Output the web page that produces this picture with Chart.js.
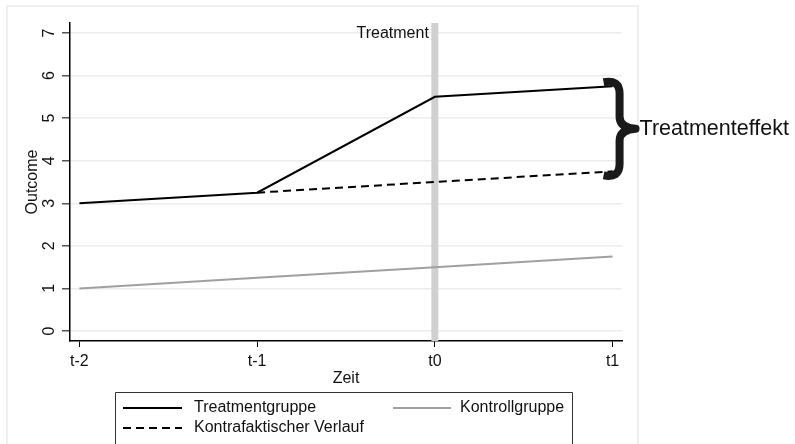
<!DOCTYPE html>
<html>
<head>
<meta charset="utf-8">
<script src="https://cdn.jsdelivr.net/npm/chart.js@4"></script>
<style>
  html, body { margin: 0; padding: 0; background: #fff; }
  #wrap { width: 795px; height: 444px; position: relative; }
</style>
</head>
<body>
<div id="wrap"><canvas id="chart"></canvas></div>
<script>
// data
const periods = ['t-2', 't-1', 't0', 't1'];
const treatmentGroup = [3, 3.25, 5.5, 5.75];
const counterfactual = [null, 3.25, 3.5, 3.75];
const controlGroup = [1, 1.25, 1.5, 1.75];
const yTicks = [0, 1, 2, 3, 4, 5, 6, 7];
const treatmentIndex = 2;

const FONT = "'Liberation Sans', Arial, sans-serif";

const toPoints = arr => arr.map((v, i) => ({ x: i, y: v }));

// annotations: frame, treatment line, brace, axis titles, legend
const decor = {
    id: 'decor',
    beforeDraw(chart) {
        const c = chart.ctx;
        c.save();
        c.strokeStyle = '#ececec';
        c.lineWidth = 1.5;
        c.beginPath();
        c.moveTo(7, 444); c.lineTo(7, 6); c.lineTo(638, 6); c.lineTo(638, 444);
        c.stroke();
        c.restore();
    },
    beforeDatasetsDraw(chart) {
        const c = chart.ctx, xs = chart.scales.x, a = chart.chartArea;
        const x = xs.getPixelForValue(treatmentIndex);
        c.save();
        c.fillStyle = '#d0d0d0';
        c.fillRect(x - 3.5, a.top, 7, a.bottom - a.top);
        c.restore();
    },
    afterDraw(chart) {
        const c = chart.ctx, xs = chart.scales.x, ys = chart.scales.y, a = chart.chartArea;
        c.save();
        c.fillStyle = '#111';
        c.font = '16px ' + FONT;
        c.textAlign = 'center';
        c.textBaseline = 'middle';

        // y tick labels, rotated
        yTicks.forEach(v => {
            c.save();
            c.translate(50, ys.getPixelForValue(v));
            c.rotate(-Math.PI / 2);
            c.fillText(String(v), 0, 0);
            c.restore();
        });

        // axis titles
        c.fillText('Zeit', (a.left + a.right) / 2, 379);
        c.save();
        c.translate(33, (a.top + a.bottom) / 2);
        c.rotate(-Math.PI / 2);
        c.fillText('Outcome', 0, 0);
        c.restore();

        // treatment label
        c.textAlign = 'right';
        c.fillText('Treatment', xs.getPixelForValue(treatmentIndex) - 6, ys.getPixelForValue(7) + 1);

        // brace from treatment end to counterfactual end
        const last = periods.length - 1;
        const bx = xs.getPixelForValue(last);
        const yTop = ys.getPixelForValue(treatmentGroup[last]) - 7;
        const yBot = ys.getPixelForValue(counterfactual[last]) + 7;
        const yMid = (yTop + yBot) / 2;
        const xl = bx - 9, xv = bx + 7, xt = bx + 23;
        c.strokeStyle = '#1a1a1a';
        c.lineWidth = 8;
        c.lineJoin = 'round';
        c.beginPath();
        c.moveTo(xl, yTop + 3);
        c.quadraticCurveTo(xv, yTop, xv, yTop + 14);
        c.lineTo(xv, yMid - 12);
        c.quadraticCurveTo(xv, yMid - 1, xt, yMid);
        c.quadraticCurveTo(xv, yMid + 1, xv, yMid + 12);
        c.lineTo(xv, yBot - 14);
        c.quadraticCurveTo(xv, yBot, xl, yBot - 3);
        c.stroke();

        c.font = '21.5px ' + FONT;
        c.textAlign = 'left';
        c.fillText('Treatmenteffekt', xt + 4, yMid);

        // legend box
        c.strokeStyle = '#333';
        c.lineWidth = 1;
        c.strokeRect(115.5, 392.5, 457, 70);
        c.font = '16px ' + FONT;
        const items = [
            { label: 'Treatmentgruppe', x1: 123, x2: 182, tx: 194, y: 408, color: '#000', dash: [] },
            { label: 'Kontrollgruppe', x1: 393, x2: 451, tx: 460, y: 408, color: '#a0a0a0', dash: [] },
            { label: 'Kontrafaktischer Verlauf', x1: 123, x2: 182, tx: 194, y: 428, color: '#000', dash: [8, 5] }
        ];
        items.forEach(it => {
            c.strokeStyle = it.color;
            c.lineWidth = 2;
            c.setLineDash(it.dash);
            c.beginPath();
            c.moveTo(it.x1, it.y);
            c.lineTo(it.x2, it.y);
            c.stroke();
            c.setLineDash([]);
            c.fillText(it.label, it.tx, it.y);
        });
        c.restore();
    }
};

new Chart(document.getElementById('chart'), {
    type: 'line',
    data: {
        datasets: [
            { label: 'Treatmentgruppe', data: toPoints(treatmentGroup), borderColor: '#000', borderWidth: 2, pointRadius: 0, tension: 0 },
            { label: 'Kontrafaktischer Verlauf', data: toPoints(counterfactual), borderColor: '#000', borderWidth: 2, borderDash: [8, 5], pointRadius: 0, tension: 0, spanGaps: false },
            { label: 'Kontrollgruppe', data: toPoints(controlGroup), borderColor: '#a0a0a0', borderWidth: 2, pointRadius: 0, tension: 0 }
        ]
    },
    options: {
        responsive: true,
        maintainAspectRatio: false,
        animation: false,
        layout: { padding: { left: 0, right: 173, top: 23, bottom: 0 } },
        plugins: { legend: { display: false }, tooltip: { enabled: false } },
        scales: {
            x: {
                type: 'linear',
                min: -0.053,
                max: 3.053,
                afterFit: s => { s.height = 103; },
                afterBuildTicks: s => { s.ticks = periods.map((p, i) => ({ value: i })); },
                grid: { drawOnChartArea: false, drawTicks: true, tickLength: 6, tickColor: '#000', tickWidth: 1 },
                border: { color: '#000', width: 1.5 },
                ticks: {
                    padding: 5,
                    color: '#111',
                    font: { family: FONT, size: 16 },
                    maxRotation: 0,
                    callback: v => periods[v]
                }
            },
            y: {
                min: -0.235,
                max: 7.235,
                afterFit: s => { s.width = 70; },
                afterBuildTicks: s => { s.ticks = yTicks.map(v => ({ value: v })); },
                grid: { color: '#ececec', lineWidth: 1.5, drawTicks: true, tickLength: 8, tickColor: '#555', tickWidth: 1.5 },
                border: { color: '#000', width: 1.5 },
                ticks: { display: false }
            }
        }
    },
    plugins: [decor]
});
</script>
</body>
</html>
